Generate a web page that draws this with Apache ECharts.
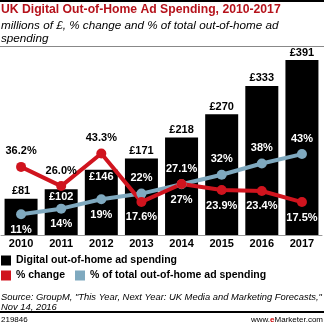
<!DOCTYPE html>
<html><head><meta charset="utf-8">
<script src="https://cdn.jsdelivr.net/npm/echarts@6/dist/echarts.min.js"></script>
<style>html,body{margin:0;padding:0;background:#fff}#c{width:324px;height:326px}</style>
</head><body><div id="c"></div>
<script>
var years = ['2010','2011','2012','2013','2014','2015','2016','2017'];
var spending = [81, 102, 146, 171, 218, 270, 333, 391];
var pctChange = [36.2, 26.0, 43.3, 17.6, 27.1, 23.9, 23.4, 17.5];
var pctOfTotal = [11, 14, 19, 22, 27, 32, 38, 43];

var barPos = ['top','insideTop','insideTop','top','top','top','top','top'];
var barCol = ['#000','#fff','#fff','#000','#000','#000','#000','#000'];
var redPos = ['top','top','top','bottom','top','bottom','bottom','bottom'];
var redCol = ['#000','#000','#000','#fff','#fff','#fff','#fff','#fff'];
var bluePos = ['bottom','bottom','bottom','top','bottom','top','top','top'];

var FONT = '"Liberation Sans", Arial, sans-serif';
var chart = echarts.init(document.getElementById('c'), null, {renderer:'canvas'});

var barData = spending.map(function(v,i){return {value:v, label:{position:barPos[i], color:barCol[i]}};});
var redData = pctChange.map(function(v,i){return {value:v, label:{position:redPos[i], color:redCol[i]}};});
var blueData = pctOfTotal.map(function(v,i){return {value:v, label:{position:bluePos[i]}};});

chart.setOption({
  animation:false,
  textStyle:{fontFamily:FONT},
  grid:{left:1, right:2, top:60, bottom:91, containLabel:false},
  xAxis:{type:'category', data:years, axisTick:{show:false},
    axisLine:{lineStyle:{color:'#999', width:1}},
    axisLabel:{color:'#000', fontWeight:'bold', fontSize:11, fontFamily:FONT, margin:3}},
  yAxis:[
    {type:'value', min:0, max:391, show:false, splitLine:{show:false}},
    {type:'value', min:0, max:93, show:false, splitLine:{show:false}}
  ],
  legend:[
    {data:['Digital out-of-home ad spending'], left:0, top:250, icon:'rect', itemWidth:10, itemHeight:10, padding:[5,5,5,1],
     textStyle:{fontWeight:'bold', fontSize:10.5, color:'#000', fontFamily:FONT}},
    {data:['% change','% of total out-of-home ad spending'], left:0, top:265, icon:'rect', itemWidth:10, itemHeight:10, itemGap:10, padding:[5,5,5,1],
     textStyle:{fontWeight:'bold', fontSize:10.5, color:'#000', fontFamily:FONT}}
  ],
  series:[
    {name:'Digital out-of-home ad spending', type:'bar', data:barData, barWidth:33, itemStyle:{color:'#000'},
     label:{show:true, position:'top', distance:2, color:'#000', fontWeight:'bold', fontSize:11, fontFamily:FONT,
       formatter:function(p){return '£'+p.value;}}},
    {name:'% of total out-of-home ad spending', type:'line', yAxisIndex:1, data:blueData,
     lineStyle:{color:'#7fa9bf', width:4}, itemStyle:{color:'#7fa9bf'}, symbol:'circle', symbolSize:10,
     label:{show:true, color:'#fff', fontWeight:'bold', fontSize:11, fontFamily:FONT, distance:5,
       formatter:function(p){return p.value+'%';}}},
    {name:'% change', type:'line', yAxisIndex:1, data:redData,
     lineStyle:{color:'#d0141e', width:4}, itemStyle:{color:'#d0141e'}, symbol:'circle', symbolSize:10,
     label:{show:true, fontWeight:'bold', fontSize:11, fontFamily:FONT, distance:5,
       formatter:function(p){return p.value.toFixed(1)+'%';}}}
  ],
  graphic:[
    {type:'rect', left:0, top:0, shape:{width:324, height:2}, style:{fill:'#000'}},
    {type:'text', left:1, top:4, style:{text:'UK Digital Out-of-Home Ad Spending, 2010-2017', fill:'#b5121b', font:'bold 12.2px '+FONT}},
    {type:'text', left:1, top:19, style:{text:'millions of £, % change and % of total out-of-home ad\nspending', fill:'#000', font:'italic 11.7px '+FONT, lineHeight:13}},
    {type:'rect', left:0, top:46, shape:{width:324, height:1}, style:{fill:'#888'}},
    {type:'text', left:1, top:293, style:{text:'Source: GroupM, "This Year, Next Year: UK Media and Marketing Forecasts,"\nNov 14, 2016', fill:'#000', font:'italic 9.4px '+FONT, lineHeight:9.5}},
    {type:'rect', left:0, top:311, shape:{width:324, height:2}, style:{fill:'#000'}},
    {type:'text', left:1, top:316, style:{text:'219846', fill:'#000', font:'8px '+FONT}},
    {type:'text', right:1, top:316, style:{text:'{a|www.}{b|e}{a|Marketer.com}', rich:{a:{fill:'#000', font:'8px '+FONT}, b:{fill:'#c00', font:'bold 8px '+FONT}}}}
  ]
});
</script></body></html>
